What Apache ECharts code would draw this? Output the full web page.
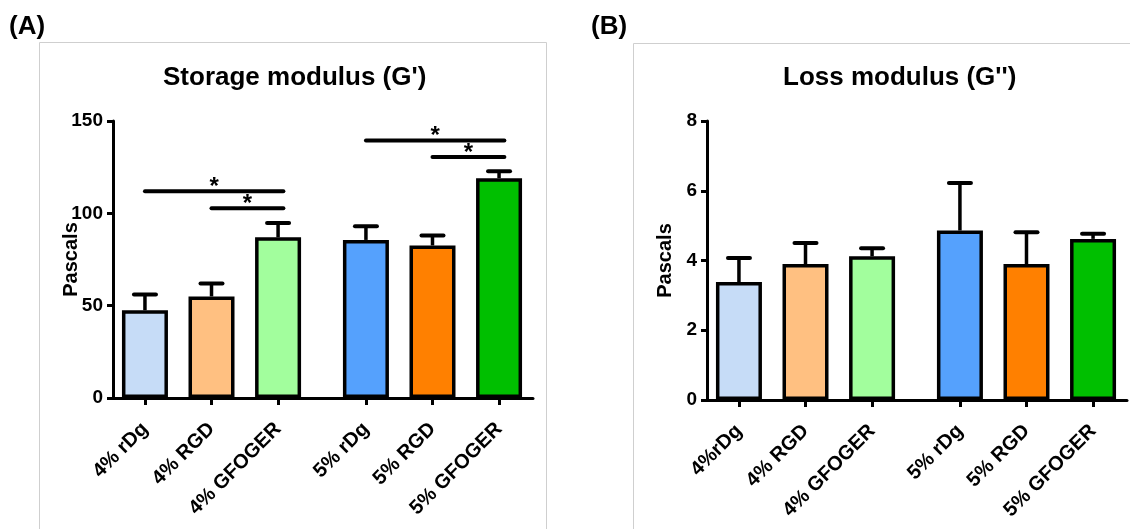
<!DOCTYPE html>
<html>
<head>
<meta charset="utf-8">
<script src="https://cdn.jsdelivr.net/npm/echarts@6/dist/echarts.min.js"></script>
<style>
html,body{margin:0;padding:0;background:#fff;}
#chart{width:1130px;height:529px;}
</style>
</head>
<body>
<div id="chart"></div>
<script>
// ---- data ----
const categoriesA = ['4% rDg', '4% RGD', '4% GFOGER', '5% rDg', '5% RGD', '5% GFOGER'];
const categoriesB = ['4%rDg', '4% RGD', '4% GFOGER', '5% rDg', '5% RGD', '5% GFOGER'];
const storageMean = [47.5, 55, 87, 85.6, 82.6, 119];
const storageErr = [8.6, 7, 7.7, 7.4, 5.4, 3.8];
const lossMean = [3.38, 3.9, 4.12, 4.86, 3.9, 4.62];
const lossErr = [0.69, 0.6, 0.23, 1.36, 0.91, 0.15];
// comparisons: [from index, to index, bracket level]
const storageSig = [[0, 2, 112], [1, 2, 102.7], [3, 5, 139.5], [4, 5, 130.5]];
const barColors = ['#c6dcf7', '#ffc081', '#a2fe9d', '#55a1fd', '#ff8000', '#00bf00'];
const yTicksA = [0, 50, 100, 150];
const yTicksB = [0, 2, 4, 6, 8];

// ---- layout helpers ----
const GROUP_GAP = 0.32;
const pos = i => i + (i >= 3 ? GROUP_GAP : 0);
const positions = categoriesA.map((_, i) => pos(i));
const FONT = '"Liberation Sans", Arial, sans-serif';

function labelFor(cats) {
  return v => {
    const i = positions.findIndex(p => Math.abs(p - v) < 1e-6);
    return i >= 0 ? cats[i] : '';
  };
}

function xAxis(gi, cats) {
  return {
    gridIndex: gi, type: 'value', min: -0.48, max: 5.83,
    axisLine: {show: true, onZero: false, lineStyle: {color: '#000', width: 3}},
    axisTick: {show: true, customValues: positions, length: 7, lineStyle: {color: '#000', width: 3}},
    axisLabel: {
      show: true, customValues: positions, formatter: labelFor(cats), rotate: 45,
      margin: 28, color: '#000', fontWeight: 'bold', fontSize: 20, fontFamily: FONT
    },
    splitLine: {show: false}
  };
}
function yAxis(gi, ticks) {
  return {
    gridIndex: gi, type: 'value', min: ticks[0], max: ticks[ticks.length - 1],
    interval: ticks[1] - ticks[0],
    name: 'Pascals', nameLocation: 'middle', nameGap: 32, nameMoveOverlap: false,
    nameTextStyle: {color: '#000', fontWeight: 'bold', fontSize: 20, fontFamily: FONT},
    axisLine: {show: true, onZero: false, lineStyle: {color: '#000', width: 3}},
    axisTick: {show: true, length: 6, lineStyle: {color: '#000', width: 3}},
    axisLabel: {color: '#000', fontWeight: 'bold', fontSize: 19, fontFamily: FONT, margin: 10},
    splitLine: {show: false}
  };
}
function bars(gi, means) {
  return {
    type: 'bar', xAxisIndex: gi, yAxisIndex: gi, barWidth: 46, z: 3,
    data: means.map((m, i) => ({value: [pos(i), m], itemStyle: {color: barColors[i]}})),
    itemStyle: {borderColor: '#000', borderWidth: 3.5}
  };
}
function errBars(gi, means, errs) {
  return {
    type: 'custom', xAxisIndex: gi, yAxisIndex: gi, z: 2,
    encode: {x: 0, y: 1},
    data: means.map((m, i) => [pos(i), m, errs[i]]),
    renderItem: (params, api) => {
      const x = api.value(0), m = api.value(1), e = api.value(2);
      const p0 = api.coord([x, m]);
      const p1 = api.coord([x, m + e]);
      return {
        type: 'group', children: [
          {type: 'line', shape: {x1: p0[0], y1: p0[1], x2: p1[0], y2: p1[1]}, style: {stroke: '#000', lineWidth: 3.5}},
          {type: 'line', shape: {x1: p1[0] - 11, y1: p1[1], x2: p1[0] + 11, y2: p1[1]}, style: {stroke: '#000', lineWidth: 4, lineCap: 'round'}}
        ]
      };
    }
  };
}
function sigSeries(gi, sig) {
  return {
    type: 'custom', xAxisIndex: gi, yAxisIndex: gi, z: 4,
    encode: {x: [0, 1], y: 2},
    data: sig.map(s => [pos(s[0]), pos(s[1]) + 0.08, s[2]]),
    renderItem: (params, api) => {
      const a = api.coord([api.value(0), api.value(2)]);
      const b = api.coord([api.value(1), api.value(2)]);
      return {
        type: 'group', children: [
          {type: 'line', shape: {x1: a[0], y1: a[1], x2: b[0], y2: b[1]}, style: {stroke: '#000', lineWidth: 4, lineCap: 'round'}},
          {type: 'text', x: (a[0] + b[0]) / 2, y: a[1] - 4,
            style: {text: '*', textAlign: 'center', textVerticalAlign: 'middle', fill: '#000', font: 'bold 24px ' + FONT}}
        ]
      };
    }
  };
}

const chart = echarts.init(document.getElementById('chart'), null, {renderer: 'canvas'});
chart.setOption({
  animation: false,
  backgroundColor: '#fff',
  grid: [
    {left: 113, right: 597, top: 121, bottom: 131},
    {left: 707, right: 3, top: 121, bottom: 129}
  ],
  xAxis: [xAxis(0, categoriesA), xAxis(1, categoriesB)],
  yAxis: [yAxis(0, yTicksA), yAxis(1, yTicksB)],
  graphic: [
    {type: 'rect', shape: {x: 39.5, y: 42.5, width: 507, height: 520}, style: {fill: 'none', stroke: '#cfcfcf', lineWidth: 1}, z: -1},
    {type: 'rect', shape: {x: 633.5, y: 43.5, width: 520, height: 520}, style: {fill: 'none', stroke: '#cfcfcf', lineWidth: 1}, z: -1},
    {type: 'text', x: 9, y: 27, style: {text: '(A)', textVerticalAlign: 'middle', fill: '#000', font: 'bold 26px ' + FONT}},
    {type: 'text', x: 591, y: 27, style: {text: '(B)', textVerticalAlign: 'middle', fill: '#000', font: 'bold 26px ' + FONT}},
    {type: 'text', x: 163, y: 78, style: {text: "Storage modulus (G')", textVerticalAlign: 'middle', fill: '#000', font: 'bold 26px ' + FONT}},
    {type: 'text', x: 783, y: 78, style: {text: "Loss modulus (G'')", textVerticalAlign: 'middle', fill: '#000', font: 'bold 26px ' + FONT}}
  ],
  series: [
    bars(0, storageMean), errBars(0, storageMean, storageErr), sigSeries(0, storageSig),
    bars(1, lossMean), errBars(1, lossMean, lossErr)
  ]
});
</script>
</body>
</html>
